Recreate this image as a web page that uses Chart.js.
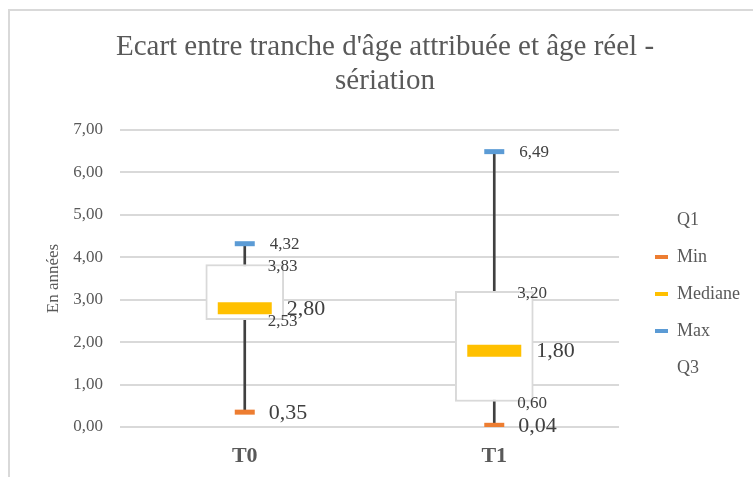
<!DOCTYPE html>
<html lang="fr">
<head>
<meta charset="utf-8">
<title>Ecart entre tranche d'âge attribuée et âge réel - sériation</title>
<script src="https://cdn.jsdelivr.net/npm/chart.js@4.4.1/dist/chart.umd.min.js"></script>
<style>
body { margin: 0; background: #fff; }
#wrap { position: relative; width: 753px; height: 477px; overflow: hidden; }
#cadre { position: absolute; left: 8px; top: 9px; width: 900px; height: 600px;
  border-left: 2px solid #d9d9d9; border-top: 2px solid #d9d9d9; }
#c { position: absolute; left: 0; top: 0; }
</style>
</head>
<body>
<div id="wrap">
  <div id="cadre"></div>
  <canvas id="c" width="753" height="477"></canvas>
</div>
<script>
// valeurs (en années)
const categories = ["T0", "T1"];
const minVals = [0.35, 0.04];
const q1Vals = [2.53, 0.60];
const medianeVals = [2.80, 1.80];
const q3Vals = [3.83, 3.20];
const maxVals = [4.32, 6.49];
const yTicks = [0, 1, 2, 3, 4, 5, 6, 7];

const gris = "#595959";
const fmt = v => v.toFixed(2).replace(".", ",");

Chart.defaults.font.family = '"Liberation Serif", "Times New Roman", serif';
Chart.defaults.color = gris;

// étiquettes de données à droite de chaque marque
const etiquettes = {
  id: "etiquettes",
  afterDatasetsDraw(chart) {
    const ctx = chart.ctx;
    chart.data.datasets.forEach((ds, i) => {
      if (!ds.etiquette) return;
      chart.getDatasetMeta(i).data.forEach((el, j) => {
        ctx.save();
        ctx.font = ds.etiquette.size + 'px "Liberation Serif"';
        ctx.fillStyle = "#404040";
        ctx.textAlign = "left";
        ctx.textBaseline = "middle";
        ctx.fillText(fmt(ds.valeurs[j]), el.x + ds.etiquette.dx, el.y + ds.etiquette.dy);
        ctx.restore();
      });
    });
  }
};

const ordreLegende = ["Q1", "Min", "Mediane", "Max", "Q3"];

new Chart(document.getElementById("c"), {
  type: "bar",
  data: {
    labels: categories,
    datasets: [
      {
        type: "line", label: "Min", valeurs: minVals, data: minVals,
        showLine: false, pointStyle: "line", pointRadius: 10, pointBorderWidth: 5,
        pointBorderColor: "#ED7D31", backgroundColor: "#ED7D31", order: 0,
        etiquette: { dx: 24, dy: 1, size: 22 }
      },
      {
        type: "line", label: "Mediane", valeurs: medianeVals, data: medianeVals,
        showLine: false, pointStyle: "line", pointRadius: 27, pointBorderWidth: 12,
        pointBorderColor: "#FFC000", backgroundColor: "#FFC000", order: 0,
        etiquette: { dx: 42, dy: 1, size: 22 }
      },
      {
        type: "line", label: "Max", valeurs: maxVals, data: maxVals,
        showLine: false, pointStyle: "line", pointRadius: 10, pointBorderWidth: 5,
        pointBorderColor: "#5B9BD5", backgroundColor: "#5B9BD5", order: 0,
        etiquette: { dx: 25, dy: 1, size: 17 }
      },
      {
        label: "Q1", valeurs: q1Vals,
        data: q1Vals.map(v => [0, v]),
        backgroundColor: "rgba(0,0,0,0)", borderWidth: 0, barThickness: 78, order: 1,
        etiquette: { dx: 23, dy: 2, size: 17 }
      },
      {
        label: "Q3", valeurs: q3Vals,
        data: q1Vals.map((v, i) => [v, q3Vals[i]]),
        backgroundColor: "#ffffff", borderColor: "#d9d9d9", borderWidth: 2,
        borderSkipped: false, barThickness: 78, order: 2,
        etiquette: { dx: 23, dy: 2, size: 17 }
      },
      {
        label: "Moustaches",
        data: minVals.map((v, i) => [v, maxVals[i]]),
        backgroundColor: "#404040", borderWidth: 0, barThickness: 2, order: 3
      }
    ]
  },
  options: {
    responsive: false,
    animation: false,
    events: [],
    layout: { padding: { left: 20, right: 3, top: 0, bottom: 0 } },
    plugins: {
      title: {
        display: true,
        text: ["Ecart entre tranche d'âge attribuée et âge réel -", "sériation"],
        color: gris,
        font: { size: 29, weight: "normal", lineHeight: 1.2 },
        padding: { top: 29.6, bottom: 30.8 }
      },
      legend: {
        position: "right",
        fullSize: false,
        title: { display: true, text: " ", font: { size: 10 }, padding: { top: 19, bottom: 0 } },
        labels: {
          font: { size: 18 },
          color: gris,
          boxWidth: 13,
          boxHeight: 4,
          padding: 19,
          generateLabels(chart) {
            return ordreLegende.map(nom => {
              const idx = chart.data.datasets.findIndex(d => d.label === nom);
              const ds = chart.data.datasets[idx];
              const visible = ds.type === "line";
              return {
                text: nom,
                fillStyle: visible ? ds.pointBorderColor : "rgba(0,0,0,0)",
                strokeStyle: "rgba(0,0,0,0)",
                lineWidth: 0,
                fontColor: gris,
                hidden: false,
                datasetIndex: idx
              };
            });
          }
        }
      },
      tooltip: { enabled: false }
    },
    scales: {
      x: {
        stacked: true,
        grid: { display: false, drawTicks: false },
        border: { display: false },
        ticks: { font: { size: 22, weight: "bold" }, color: gris, padding: 16 },
        afterFit(s) { s.height = 50; }
      },
      y: {
        stacked: false,
        min: 0,
        max: 7,
        afterBuildTicks(s) { s.ticks = yTicks.map(v => ({ value: v })); },
        grid: { color: "#d9d9d9", lineWidth: 2, drawTicks: false },
        border: { display: false },
        ticks: { font: { size: 17 }, color: gris, padding: 17, callback: v => fmt(v) },
        title: {
          display: true, text: "En années", color: gris,
          font: { size: 17 }, padding: { top: 23, bottom: 0 }
        },
        afterFit(s) { s.width = 100; }
      },
      // espace entre la zone de tracé et la légende
      espace: {
        type: "linear",
        position: "right",
        display: true,
        grid: { display: false, drawTicks: false },
        border: { display: false },
        ticks: { display: false },
        afterFit(s) { s.width = 17; }
      }
    }
  },
  plugins: [etiquettes]
});
</script>
</body>
</html>
